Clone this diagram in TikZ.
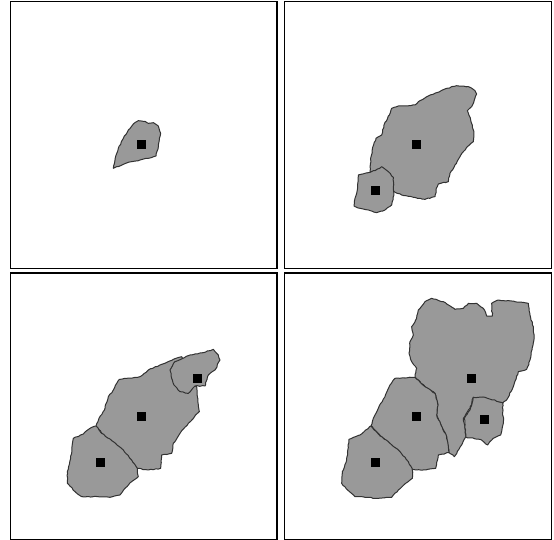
\documentclass[tikz,border=0pt]{standalone}
\usepackage{xcolor}
\usetikzlibrary{decorations.pathmorphing}
\definecolor{blobfill}{RGB}{153,153,153}
\definecolor{blobline}{RGB}{50,50,50}
\begin{document}
\begin{tikzpicture}[x=1pt,y=-1pt,
  panel/.style={draw=black,line width=1.5pt,fill=white},
  blob/.style={draw=blobline,line width=1pt,fill=blobfill,line join=round,
               decorate,decoration={random steps,segment length=2.5pt,amplitude=0.45pt}},
  seed/.style={fill=black,inner sep=0pt,minimum size=9pt,shape=rectangle}]
\useasboundingbox (0,0) rectangle (554,540);

% ------------- frames -------------
\draw[panel] (10.5,1.5) rectangle (277,268.5);
\draw[panel] (284.5,1.5) rectangle (551.5,268.5);
\draw[panel] (10.5,273) rectangle (277,539.5);
\draw[panel] (284.5,273) rectangle (551.5,539.5);

% ------------- top left -------------
\begin{scope}[shift={(90,100)},scale=0.3333]
\draw[blob] (70,205) -- (75,180) -- (85,145) -- (100,115) -- (115,90) -- (130,72)
  -- (145,62) -- (165,64) -- (175,70) -- (190,68) -- (205,78) -- (212,100)
  -- (208,120) -- (205,140) -- (198,168) -- (175,175) -- (150,180) -- (125,185)
  -- (100,193) -- cycle;
\end{scope}
\node[seed] (a1) at (141,145) {};

% ------------- top right -------------
\begin{scope}[shift={(340,70)},scale=0.3333]
\draw[blob] (90,305) -- (92,270) -- (98,232) -- (108,205) -- (125,195) -- (132,165)
  -- (148,135) -- (155,115) -- (175,108) -- (225,105) -- (240,92) -- (265,78)
  -- (290,68) -- (320,55) -- (350,47) -- (385,50) -- (405,62) -- (410,72)
  -- (403,90) -- (395,110) -- (382,122) -- (392,150) -- (402,185) -- (400,215)
  -- (380,232) -- (360,260) -- (345,285) -- (330,310) -- (325,335) -- (295,342)
  -- (288,360) -- (285,380) -- (255,388) -- (220,382) -- (185,375) -- (162,365)
  -- (125,320) -- cycle;
\draw[blob] (125,290) -- (145,305) -- (160,322) -- (160,350) -- (162,375) -- (155,405)
  -- (135,420) -- (110,428) -- (85,420) -- (60,415) -- (42,408) -- (45,385)
  -- (52,360) -- (55,315) -- (85,308) -- (105,302) -- cycle;
\end{scope}
\node[seed] (b1) at (416,145) {};
\node[seed] (b2) at (375,191) {};

% ------------- bottom left -------------
\begin{scope}[shift={(60,340)},scale=0.3333]
\draw[blob] (108,258) -- (117,235) -- (135,205) -- (145,170) -- (160,150) -- (178,118)
  -- (240,110) -- (265,90) -- (300,75) -- (340,58) -- (365,50) -- (400,135)
  -- (410,140) -- (418,215) -- (385,250) -- (360,280) -- (340,310) -- (335,340)
  -- (305,345) -- (302,385) -- (265,390) -- (232,385) -- (180,340) -- cycle;
\draw[blob] (108,258) -- (125,280) -- (160,305) -- (190,330) -- (215,360) -- (232,385)
  -- (235,410) -- (215,425) -- (195,445) -- (180,465) -- (150,472) -- (100,470)
  -- (65,470) -- (45,455) -- (22,430) -- (22,395) -- (32,355) -- (40,295)
  -- (70,282) -- (90,265) -- cycle;
\draw[blob] (330,90) -- (345,65) -- (390,45) -- (430,38) -- (460,28) -- (475,45)
  -- (480,60) -- (465,90) -- (445,105) -- (435,138) -- (405,138) -- (385,160)
  -- (360,155) -- (342,135) -- (335,115) -- cycle;
\end{scope}
\node[seed] (c1) at (141,416) {};
\node[seed] (c2) at (100,462) {};
\node[seed] (c3) at (197,378) {};

% ------------- bottom right -------------
\begin{scope}[shift={(335,290)},scale=0.3333]
\draw[blob] (240,262) -- (245,235) -- (230,215) -- (222,190) -- (225,155) -- (235,135)
  -- (230,110) -- (245,85) -- (250,60) -- (270,35) -- (290,25) -- (325,35)
  -- (360,58) -- (385,55) -- (400,40) -- (425,40) -- (445,55) -- (455,78)
  -- (472,78) -- (470,40) -- (490,30) -- (540,35) -- (580,40) -- (585,75)
  -- (595,110) -- (597,150) -- (585,210) -- (575,238) -- (550,245) -- (535,290)
  -- (518,325) -- (503,340) -- (415,322) -- (405,355) -- (385,385) -- (393,440)
  -- (380,465) -- (358,500) -- (342,488) -- (335,440) -- (318,405) -- (305,375)
  -- (308,340) -- (300,310) -- (270,290) -- cycle;
\draw[blob] (108,408) -- (115,385) -- (130,355) -- (150,320) -- (165,285) -- (180,265)
  -- (240,262) -- (270,290) -- (300,310) -- (308,340) -- (305,375) -- (318,405)
  -- (335,440) -- (342,488) -- (310,495) -- (302,535) -- (265,540) -- (232,538)
  -- (180,480) -- cycle;
\draw[blob] (108,408) -- (130,432) -- (165,460) -- (195,485) -- (220,515) -- (232,540)
  -- (232,565) -- (212,580) -- (190,600) -- (170,622) -- (130,625) -- (90,622)
  -- (60,620) -- (40,602) -- (20,580) -- (22,545) -- (35,510) -- (42,448)
  -- (75,435) -- (92,420) -- cycle;
\draw[blob] (415,322) -- (450,322) -- (503,338) -- (505,400) -- (497,435) -- (475,445)
  -- (458,465) -- (435,448) -- (393,442) -- (388,385) -- (405,360) -- cycle;
\end{scope}
\node[seed] (d1) at (471,378) {};
\node[seed] (d2) at (416,416) {};
\node[seed] (d3) at (375,462) {};
\node[seed] (d4) at (484,419) {};

\end{tikzpicture}
\end{document}
